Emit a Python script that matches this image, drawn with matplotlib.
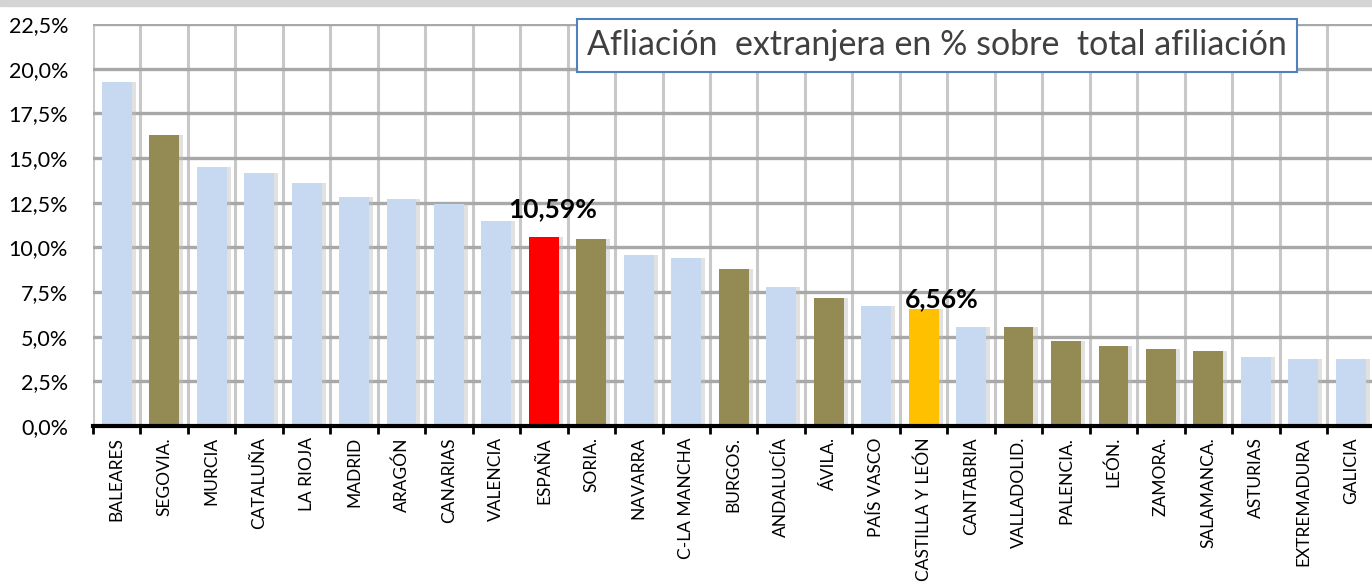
import matplotlib.pyplot as plt
from matplotlib.patches import Rectangle
import numpy as np

regiones = ["BALEARES", "SEGOVIA.", "MURCIA", "CATALUÑA", "LA RIOJA", "MADRID",
            "ARAGÓN", "CANARIAS", "VALENCIA", "ESPAÑA", "SORIA.", "NAVARRA",
            "C-LA MANCHA", "BURGOS.", "ANDALUCÍA", "ÁVILA.", "PAÍS VASCO",
            "CASTILLA Y LEÓN", "CANTABRIA", "VALLADOLID.", "PALENCIA.", "LEÓN.",
            "ZAMORA.", "SALAMANCA.", "ASTURIAS", "EXTREMADURA", "GALICIA"]
afiliacion = [19.25, 16.27, 14.50, 14.17, 13.58, 12.80, 12.69, 12.42, 11.49,
              10.59, 10.46, 9.55, 9.40, 8.80, 7.76, 7.16, 6.71, 6.56, 5.52,
              5.52, 4.77, 4.48, 4.33, 4.18, 3.88, 3.73, 3.73]
# tipo: r = comunidad, p = provincia CyL, e = España, c = Castilla y León
tipo = ["r", "p", "r", "r", "r", "r", "r", "r", "r", "e", "p", "r", "r", "p",
        "r", "p", "r", "c", "r", "p", "p", "p", "p", "p", "r", "r", "r"]
etiquetas = {"ESPAÑA": "10,59%", "CASTILLA Y LEÓN": "6,56%"}

colores = {"r": "#C6D9F1", "p": "#948A54", "e": "#FF0000", "c": "#FFC000"}
fuente = "Lato"

fig = plt.figure(figsize=(13.72, 5.83), dpi=100)
ax = fig.add_axes([93 / 1372, 157 / 583, (1374.5 - 93) / 1372, 402 / 583])

x = np.arange(len(regiones))
# soft shadow
ax.bar(x + 0.07, afiliacion, width=0.66, color="#bdbdbd", alpha=0.45, zorder=2)
ax.bar(x, afiliacion, width=0.63, color=[colores[t] for t in tipo], zorder=3)

ax.set_xlim(-0.5, len(regiones) - 0.5)
ax.set_ylim(0, 22.5)
yt = np.arange(0, 22.6, 2.5)
ax.set_yticks(yt)
ax.set_yticklabels([f"{v:.1f}%".replace(".", ",") for v in yt],
                   fontsize=15.5, family=fuente)
ax.set_xticks(x)
ax.set_xticklabels(regiones, rotation=90, fontsize=12.5, family=fuente)
ax.set_xticks(np.arange(-0.5, len(regiones), 1), minor=True)
ax.tick_params(axis="x", which="major", length=0, pad=8)
ax.tick_params(axis="x", which="minor", length=6, width=2, color="black")
ax.tick_params(axis="y", length=0, pad=18)

ax.grid(axis="y", which="major", color="#a8a8a8", lw=2.4, zorder=1)
ax.grid(axis="x", which="minor", color="#c8c8c8", lw=2.2, zorder=1)
ax.grid(axis="x", which="major", visible=False)
ax.set_axisbelow(True)

for s in ["top", "right", "left"]:
    ax.spines[s].set_visible(False)
ax.spines["bottom"].set_linewidth(3)
ax.spines["bottom"].set_zorder(5)

desplaz = {"ESPAÑA": (0.18, 0.85), "CASTILLA Y LEÓN": (0.38, -0.15)}
for i, r in enumerate(regiones):
    if r in etiquetas:
        dx, dy = desplaz[r]
        ax.text(i + dx, afiliacion[i] + dy, etiquetas[r], ha="center", va="bottom",
                fontsize=19, fontweight="bold", family=fuente,
                color="black", zorder=6)

ax.text(0.6586, 0.947, "Afliación  extranjera en % sobre  total afiliación",
        transform=ax.transAxes, ha="center", va="center", fontsize=24.5,
        family=fuente, color="#404040", zorder=7,
        bbox=dict(boxstyle="square,pad=0.3", fc="white", ec="#4F81BD", lw=1.5))

# top gray border of the screenshot
fig.patches.append(Rectangle((0, 1 - 6 / 583), 1, 6 / 583, transform=fig.transFigure,
                             color="#d4d4d4", zorder=0))

fig.savefig("out.png", dpi=100)
